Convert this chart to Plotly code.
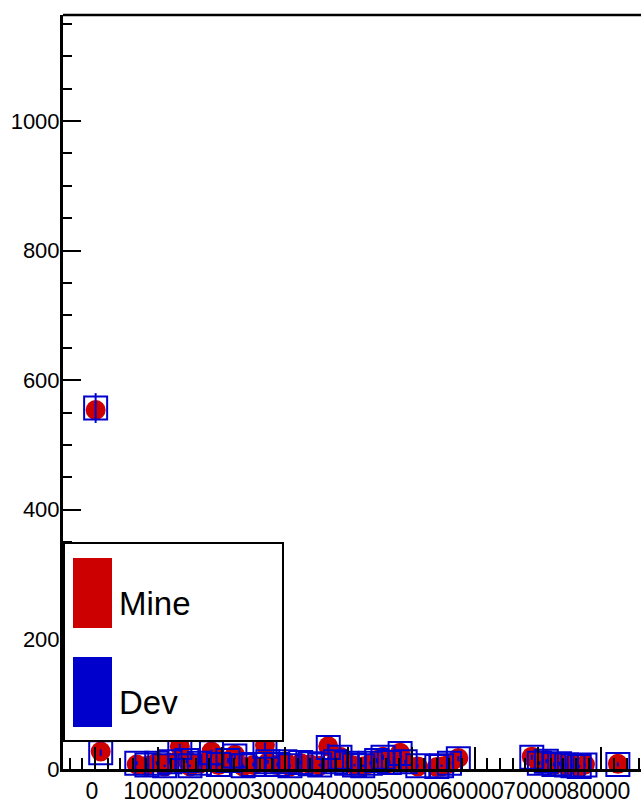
import plotly.graph_objects as go

# ---- data ----
x_vals = [100, 900, 6600, 8200, 9750, 11000, 11850, 13400, 14500, 15000, 16500, 18400,
          19500, 21000, 22100, 23400, 25000, 26850, 27300, 28800, 30000, 30800, 32500,
          34000, 35500, 36850, 38000, 38700, 39750, 41000, 42300, 43500, 44500, 45500,
          46500, 48200, 49000, 51000, 54000, 54750, 56000, 57400, 69000, 70200, 71300,
          72500, 73400, 74500, 75500, 76500, 77400, 82600]
mine_vals = [554, 27, 7, 5, 10, 4, 10, 35, 14, 4, 8, 27,
             6, 12, 22, 4, 6, 37, 10, 6, 12, 4, 9,
             7, 5, 35, 10, 19, 10, 5, 4, 8, 14, 19,
             9, 25, 10, 4, 3, 4, 8, 17, 19, 8, 14,
             6, 9, 5, 7, 3, 7, 8]
dev_vals = [557, 25, 9, 6, 9, 5, 11, 33, 13, 5, 9, 25,
            7, 13, 20, 5, 7, 35, 11, 7, 11, 5, 10,
            8, 6, 33, 11, 18, 9, 6, 5, 9, 13, 18,
            10, 24, 11, 5, 4, 5, 9, 16, 18, 9, 12,
            7, 8, 6, 5, 4, 6, 7]
dev_err = [23, 5, 3, 2, 3, 2, 3, 6, 4, 2, 3, 5,
           3, 4, 4, 2, 3, 6, 3, 3, 3, 2, 3,
           3, 2, 6, 3, 4, 3, 2, 2, 3, 4, 4,
           3, 5, 3, 2, 2, 2, 3, 4, 4, 3, 3,
           3, 3, 2, 2, 2, 2, 3]
series_names = ["Mine", "Dev"]
x_tick_vals = [0, 10000, 20000, 30000, 40000, 50000, 60000, 70000, 80000]
y_tick_vals = [0, 200, 400, 600, 800, 1000]

RED = "#cc0000"
BLUE = "#0000cc"
FONT = "Liberation Sans, Arial, sans-serif"

fig = go.Figure()
fig.add_trace(go.Scatter(
    x=x_vals, y=mine_vals, mode="markers", name=series_names[0],
    marker=dict(symbol="circle", size=20, color=RED, line=dict(width=0)),
    cliponaxis=False, showlegend=False, hoverinfo="skip"))
fig.add_trace(go.Scatter(
    x=x_vals, y=dev_vals, mode="markers", name=series_names[1],
    marker=dict(symbol="square-open", size=23, color=BLUE, line=dict(width=2, color=BLUE)),
    error_y=dict(type="data", array=dev_err, visible=True, color=BLUE, thickness=2, width=0),
    cliponaxis=False, showlegend=False, hoverinfo="skip"))

W, H = 641, 804
L, T, B, R = 63, 15, 35, 0
pw = W - L - R
ph = H - T - B

fig.update_layout(
    width=W, height=H,
    margin=dict(l=L, r=R, t=T, b=B, pad=0),
    paper_bgcolor="white", plot_bgcolor="white",
    font=dict(family=FONT, color="black"),
    showlegend=False,
    xaxis=dict(
        range=[-5055, 86256], showgrid=False, zeroline=False, automargin=False,
        showline=True, linewidth=3, linecolor="black",
        tickmode="array", tickvals=x_tick_vals,
        ticktext=[str(v) for v in x_tick_vals],
        ticks="inside", ticklen=22, tickwidth=2, tickcolor="black",
        tickfont=dict(size=23, family=FONT, color="black"),
        tickangle=0,
        ticklabelshift=-3, ticklabelstandoff=-1,
        minor=dict(ticks="inside", ticklen=11, tickwidth=2, tickcolor="black",
                   tick0=0, dtick=2000, showgrid=False),
    ),
    yaxis=dict(
        range=[0, 1163.5], showgrid=False, zeroline=False, automargin=False,
        showline=True, linewidth=3, linecolor="black",
        tickmode="array", tickvals=y_tick_vals,
        ticktext=[str(v) for v in y_tick_vals],
        ticks="inside", ticklen=18, tickwidth=2, tickcolor="black",
        tickfont=dict(size=22, family=FONT, color="black"),
        ticklabelstandoff=-4,
        minor=dict(ticks="inside", ticklen=9, tickwidth=2, tickcolor="black",
                   tick0=0, dtick=50, showgrid=False),
    ),
)

def px_x(p):
    return (p - L) / pw

def px_y(p):
    return 1 - (p - T) / ph

shapes = [
    # top frame line
    dict(type="line", xref="paper", yref="paper", x0=0, x1=1, y0=1, y1=1,
         line=dict(color="black", width=2.5), layer="above"),
    # legend box
    dict(type="rect", xref="paper", yref="paper",
         x0=px_x(64), x1=px_x(283), y0=px_y(741), y1=px_y(543),
         fillcolor="white", line=dict(color="black", width=2), layer="above"),
    dict(type="rect", xref="paper", yref="paper",
         x0=px_x(73), x1=px_x(112), y0=px_y(628), y1=px_y(558),
         fillcolor=RED, line=dict(width=0), layer="above"),
    dict(type="rect", xref="paper", yref="paper",
         x0=px_x(73), x1=px_x(112), y0=px_y(727), y1=px_y(657),
         fillcolor=BLUE, line=dict(width=0), layer="above"),
]
fig.update_layout(shapes=shapes)

fig.add_annotation(text=series_names[0], xref="paper", yref="paper",
                   x=px_x(117), y=px_y(603), xanchor="left", yanchor="middle",
                   showarrow=False, font=dict(size=33, family=FONT, color="black"))
fig.add_annotation(text=series_names[1], xref="paper", yref="paper",
                   x=px_x(117), y=px_y(702), xanchor="left", yanchor="middle",
                   showarrow=False, font=dict(size=33, family=FONT, color="black"))

fig.write_html("out.html", config={"displayModeBar": False},
               post_script="document.body.style.margin='0';document.body.style.padding='0';")
